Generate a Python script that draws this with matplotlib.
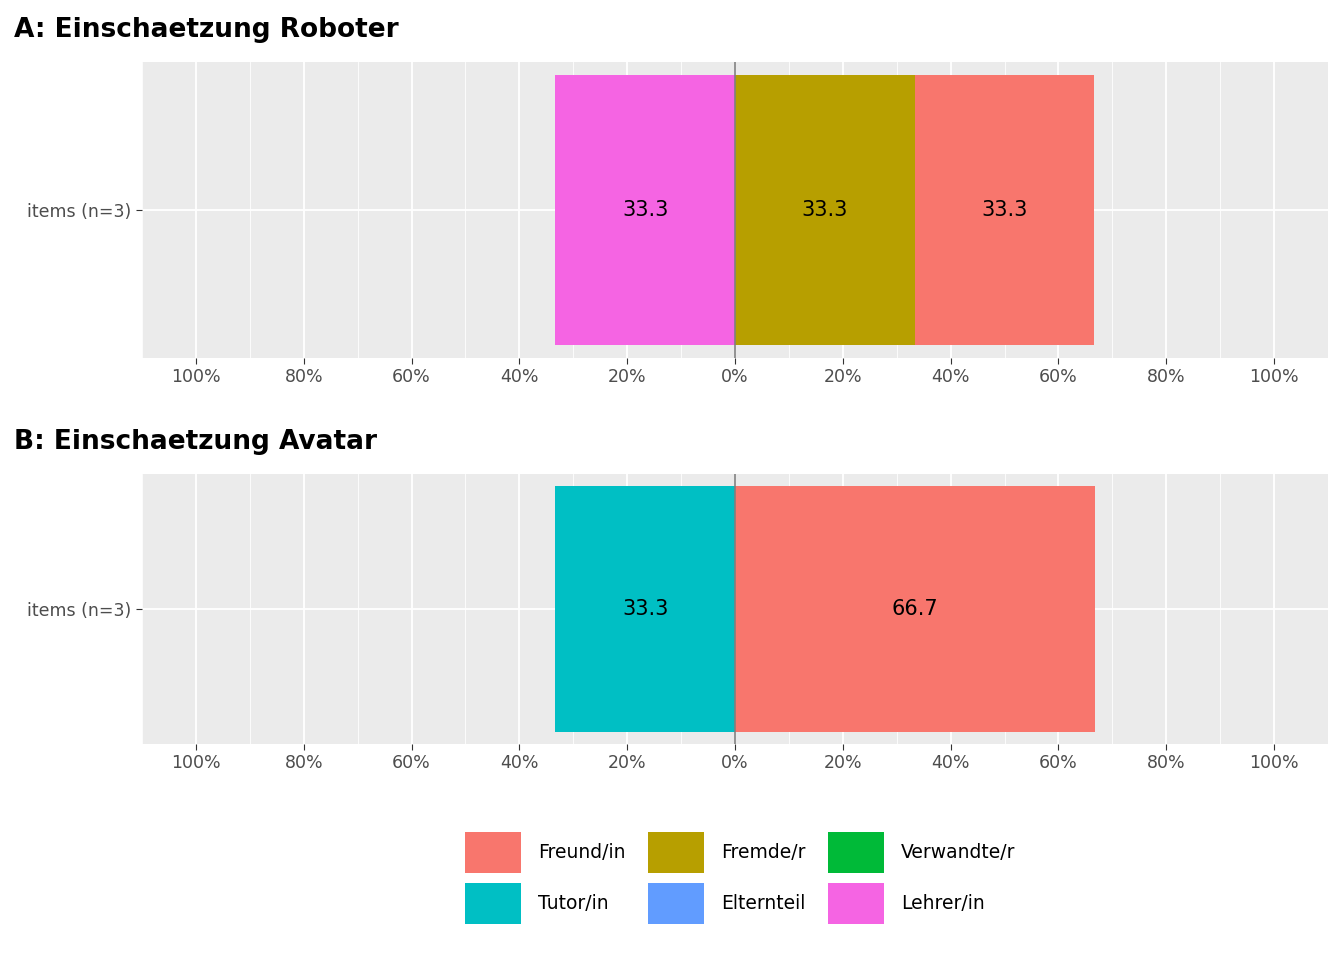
import matplotlib
matplotlib.use("Agg")
import matplotlib.pyplot as plt
from matplotlib.patches import Patch

categories = ["Freund/in", "Fremde/r", "Verwandte/r", "Tutor/in", "Elternteil", "Lehrer/in"]
colors = ["#F8766D", "#B79F00", "#00BA38", "#00BFC4", "#619CFF", "#F564E3"]
cmap = dict(zip(categories, colors))

# (category, left, width, label)
roboter_neg = [("Lehrer/in", 33.3)]
roboter_pos = [("Fremde/r", 33.3), ("Freund/in", 33.3)]
avatar_neg = [("Tutor/in", 33.3)]
avatar_pos = [("Freund/in", 66.7)]
titles = ["A: Einschaetzung Roboter", "B: Einschaetzung Avatar"]
ylabel = "items (n=3)"
ticks = [-100, -80, -60, -40, -20, 0, 20, 40, 60, 80, 100]
ticklabels = [f"{abs(t)}%" for t in ticks]

fig = plt.figure(figsize=(13.44, 9.6), dpi=100)
W, H = 1344, 960
boxes = [(142, 62, 1328, 358), (142, 474, 1328, 744)]
panels = [(roboter_neg, roboter_pos), (avatar_neg, avatar_pos)]
for (x0, y0, x1, y1), (neg, pos), title in zip(boxes, panels, titles):
    ax = fig.add_axes([x0 / W, 1 - y1 / H, (x1 - x0) / W, (y1 - y0) / H])
    ax.set_facecolor("#EBEBEB")
    ax.set_xlim(-110, 110)
    ax.set_ylim(0.45, 1.55)
    for m in range(-110, 111, 20):
        ax.axvline(m, color="white", lw=0.6, zorder=0)
    for t in ticks:
        ax.axvline(t, color="white", lw=1.3, zorder=0)
    ax.axhline(1, color="white", lw=1.3, zorder=0)
    left = 0
    for cat, v in neg:
        ax.barh(1, -v, left=left, height=1.0, color=cmap[cat], zorder=2)
        ax.text(left - v / 2, 1, f"{v:.1f}", ha="center", va="center", fontsize=15, zorder=3)
        left -= v
    left = 0
    for cat, v in pos:
        ax.barh(1, v, left=left, height=1.0, color=cmap[cat], zorder=2)
        ax.text(left + v / 2, 1, f"{v:.1f}", ha="center", va="center", fontsize=15, zorder=3)
        left += v
    ax.axvline(0, color="#7F7F7F", lw=1.2, zorder=4)
    ax.set_xticks(ticks)
    ax.set_xticklabels(ticklabels, fontsize=12.5, color="#4D4D4D")
    ax.set_yticks([1])
    ax.set_yticklabels([ylabel], fontsize=12.5, color="#4D4D4D")
    ax.tick_params(colors="#333333", length=4, labelcolor="#4D4D4D")
    for s in ax.spines.values():
        s.set_visible(False)
    fig.text(14 / W, 1 - (y0 - 32) / H, title, fontsize=19, fontweight="bold", va="center", ha="left")

handles = [Patch(facecolor=cmap[c], edgecolor="none") for c in categories]
# order for 3 columns filled column-wise: rows Freund, Fremde, Verwandte / Tutor, Eltern, Lehrer
order = [0, 3, 1, 4, 2, 5]
fig.legend([handles[i] for i in order], [categories[i] for i in order], ncol=3,
           loc="center", bbox_to_anchor=(740 / W, 1 - 878 / H), frameon=False,
           fontsize=13.5, handlelength=3.0, handleheight=3.0, columnspacing=1.2,
           labelspacing=0.5, handletextpad=0.9)
fig.savefig("out.png", dpi=100)
